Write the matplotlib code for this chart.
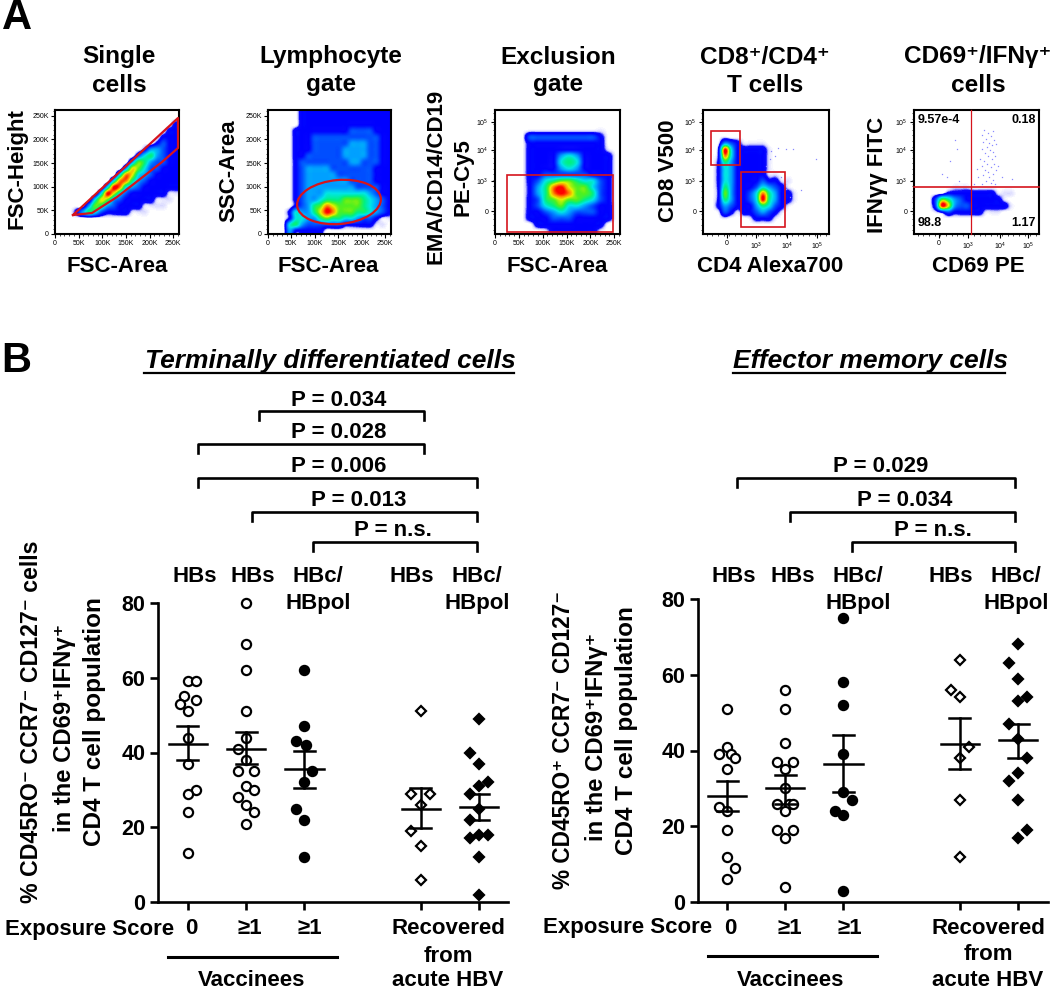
import matplotlib
matplotlib.use("Agg")
import matplotlib.pyplot as plt
import numpy as np
from matplotlib.colors import LinearSegmentedColormap
from matplotlib.patches import Ellipse, Rectangle

plt.rcParams['font.family'] = ['Liberation Sans', 'DejaVu Sans']
plt.rcParams['mathtext.default'] = 'regular'

W, H = 1050, 990

# PANEL A: density levels, top row first
# 0 = empty, . = stray events, 1 = blue ... 9 = red
singlet_density = [
    "00000000000000000000",
    "00000000000000000000",
    "00000000000000000001",
    "00000000000000000011",
    "00000000000000000111",
    "00000000000000001211",
    "00000000000000133211",
    "00000000000002453211",
    "00000000000036532211",
    "00000000000376422111",
    "00000000004874321111",
    "00000000048853211111",
    "00000000498432111111",
    "000000049742111111..",
    "0000004763211111...0",
    "00000365321111....00",
    "000135421111...00000",
    "00000000000000000000",
    "00000000000000000000",
    "00000000000000000000",
]
lymph_density = [
    "00000111111111111111",
    "00000111111111111111",
    "00000111111111111111",
    "00001111111112222111",
    "00001112222222222211",
    "00001112222223332211",
    "00001112222233332211",
    "00001122222233332211",
    "00001222222223322211",
    "00001233332222222111",
    "00001233333222222111",
    "00001233333332222111",
    "00001233333333222211",
    "00001233344444443211",
    "00001233455566654321",
    "00001235687666654321",
    "00014335798666554321",
    "000144335655443221..",
    "00045322222211111..0",
    "00031111100000000000",
]
exclusion_density = [
    "0000000000000000",
    "0000000000000000",
    "0000000000000000",
    "0000..........00",
    "0000222222222100",
    "0000111111111100",
    "00001111111111.0",
    "0000111134311110",
    "0000111145411110",
    "0000111134311110",
    "0000112222221110",
    "0000124566544210",
    "0000135897664210",
    "0000135898665210",
    "0000125676654210",
    "0000124564432110",
    "0000112343222110",
    "0000111222111110",
    "0000011111111100",
    "000000.111111.00",
]
cd4cd8_density = [
    "00000000000000000000",
    "00000000000000000000",
    "00000000000000000000",
    "00000000000000000000",
    "000.0000000000000000",
    "00.321....0000000000",
    "0019411111.000000000",
    "0018411111.000000000",
    "0015311111.000000000",
    "0014311111.000000000",
    "0014311111..00000000",
    "00143111121 1..000000".replace(" ", ""),
    "001531112432 1.000000".replace(" ", ""),
    "00163112485311.00000",
    "00153112495311.00000",
    "00132111354 21.000000".replace(" ", "")[:20],
    "00.21.112321.0000000",
    "000.000.111.00000000",
    "00000000000000000000",
    "00000000000000000000",
]
cd69_density = [
    "00000000000000000000",
    "00000000000000000000",
    "00000000000000000000",
    "00000000000000000000",
    "00000000000000000000",
    "00000000000000000000",
    "00000000000000000000",
    "00000000000000000000",
    "00000000000000000000",
    "00000000000000000000",
    "00000000000000000000",
    "00000000000000000000",
    "000000...00000000000",
    "0000.11111111...0000",
    "0002653211111 1.00000".replace(" ", ""),
    "00029732211111 1.0000".replace(" ", ""),
    "000.1211111...000000",
    "00000000000000000000",
    "00000000000000000000",
    "00000000000000000000",
]

# stray events, in 1/378 of the panel, measured from top left
cd69_stray_x = [213, 225, 240, 205, 232, 218, 243, 210, 228, 236, 222, 248, 205, 230, 240, 215,
                225, 245, 200, 235, 212, 222, 242, 205, 232, 216, 248, 225, 238, 210, 195, 228,
                240, 218, 232, 205, 245, 190, 255, 125, 130, 85, 110, 100, 135, 295, 180, 265]
cd69_stray_y = [62, 70, 65, 75, 80, 88, 90, 98, 100, 108, 112, 105, 118, 122, 128, 132,
                140, 140, 148, 150, 155, 165, 165, 172, 175, 182, 182, 190, 195, 198, 205, 205,
                212, 215, 222, 225, 225, 180, 170, 90, 120, 195, 155, 205, 215, 210, 225, 205]
cd4_stray_x = [205, 225, 250, 270, 340, 295, 250, 260, 200, 215, 235, 190, 245]
cd4_stray_y = [125, 115, 120, 118, 150, 245, 240, 265, 150, 140, 205, 170, 225]

quadrant_labels = ["9.57e-4", "0.18", "98.8", "1.17"]
scatter_ticks = [0, 50000, 100000, 150000, 200000, 250000]
scatter_labels = ["0", "50K", "100K", "150K", "200K", "250K"]
log_ticks_y = [0.182, 0.424, 0.678, 0.906]
log_labels_y = ["0", "$10^3$", "$10^4$", "$10^5$"]
log_ticks_x_cd4 = [0.19, 0.423, 0.67, 0.904]
log_ticks_x_cd69 = [0.196, 0.431, 0.688, 0.913]
log_labels_x = ["0", "$10^3$", "$10^4$", "$10^5$"]

# PANEL B: terminally differentiated cells
td_hbs0 = [59, 59, 55, 54, 53, 51, 44, 37, 30, 29, 24, 13]
td_hbs0_dx = [0, .14, -.07, .14, -.14, 0, 0, 0, .14, 0, 0, 0]
td_hbs1 = [80, 69, 62, 51, 44, 41, 38, 35, 35, 31, 30, 28, 26, 24, 21]
td_hbs1_dx = [0, 0, 0, 0, 0, -.14, 0, -.14, .14, 0, .14, -.14, 0, .14, 0]
td_pol1 = [62, 47, 43, 42, 35, 32, 25, 22, 12]
td_pol1_dx = [0, 0, -.14, .03, .14, 0, -.14, 0, 0]
td_rec_hbs = [51, 29, 29, 26, 19, 15, 6]
td_rec_hbs_dx = [0, -.16, .16, 0, -.16, 0, 0]
td_rec_pol = [49, 40, 37, 32, 31, 29, 25, 22, 18, 18, 17, 12, 2]
td_rec_pol_dx = [0, -.16, 0, .16, 0, -.16, 0, -.16, 0, .16, -.16, 0, 0]
td_mean = [42.3, 41, 35.5, 25, 25.5]
td_upper = [47, 45.5, 40.5, 30.4, 29]
td_lower = [38, 37, 30.5, 19.7, 22]

# PANEL B: effector memory cells
em_hbs0 = [51, 41, 39, 39, 38, 35, 25, 24, 19, 12, 9, 6]
em_hbs0_dx = [0, 0, -.14, .07, .14, 0, -.14, 0, 0, 0, .14, 0]
em_hbs1 = [56, 51, 42, 37, 37, 35, 30, 26, 26, 26, 24, 19, 19, 17, 4]
em_hbs1_dx = [0, 0, 0, -.14, .14, 0, 0, -.14, .07, .14, 0, -.14, .14, 0, 0]
em_pol1 = [75, 58, 52, 39, 29, 27, 24, 23, 3]
em_pol1_dx = [0, 0, 0, 0, 0, .14, -.14, 0, 0]
em_rec_hbs = [64, 56, 54, 41, 38, 27, 12]
em_rec_hbs_dx = [0, -.16, 0, .16, 0, 0, 0]
em_rec_pol = [68, 63, 59, 54, 53, 47, 43, 38, 34, 32, 27, 19, 17]
em_rec_pol_dx = [0, -.16, 0, .16, 0, -.16, 0, .16, 0, -.16, 0, .16, 0]
em_mean = [28, 30, 36.5, 41.7, 42.7]
em_upper = [32, 33.5, 44, 48.5, 47]
em_lower = [24, 26, 29, 35, 38]

group_x = [1, 2, 3, 5, 6]
y_ticks = [0, 20, 40, 60, 80]
td_p_values = ["P = 0.034", "P = 0.028", "P = 0.006", "P = 0.013", "P = n.s."]
em_p_values = ["P = 0.029", "P = 0.034", "P = n.s."]

# white -> stray pale -> blue -> cyan -> green -> yellow -> red
flow_cmap = LinearSegmentedColormap.from_list("flow", [
    (0.0, "#ffffff"), (0.2 / 9, "#dcdcff"), (0.3 / 9, "#c0c0ff"), (0.6 / 9, "#0a0aff"), (1 / 9, "#0000ff"),
    (2 / 9, "#0050ff"), (3 / 9, "#00a0ff"), (4 / 9, "#00e6e6"), (5 / 9, "#00f082"),
    (6 / 9, "#50f01e"), (7 / 9, "#e6f000"), (8 / 9, "#ff8c00"), (1.0, "#ff0000"),
])

fig = plt.figure(figsize=(W / 100, H / 100), dpi=100)


def px_axes(x0, y0, x1, y1):
    """Axes from a box given in picture pixels"""
    return fig.add_axes([x0 / W, 1 - y1 / H, (x1 - x0) / W, (y1 - y0) / H])


# overlay in picture pixels for labels, gates and brackets
ov = fig.add_axes([0, 0, 1, 1], zorder=10)
ov.set_xlim(0, W)
ov.set_ylim(H, 0)
ov.axis('off')
ov.patch.set_alpha(0)


def label(x, y, s, size=16, ha='center', **kw):
    ov.text(x, y, s, fontsize=size, fontweight='bold', ha=ha, va='center', **kw)


def levels(rows):
    return np.array([[0.2 if c == '.' else int(c) for c in row] for row in rows], dtype=float)


def flow_panel(box, rows, xticks, xlabels, yticks, ylabels, linear_x, linear_y):
    ax = px_axes(*box)
    ax.imshow(levels(rows), cmap=flow_cmap, vmin=0, vmax=9, extent=[0, 1, 0, 1],
              aspect='auto', interpolation='catrom')
    ax.set_xlim(0, 1)
    ax.set_ylim(0, 1)
    ax.set_xticks(xticks)
    ax.set_xticklabels(xlabels)
    ax.set_yticks(yticks)
    ax.set_yticklabels(ylabels)
    minor_linear = np.arange(0, 262144, 10000) / 262144
    ax.set_xticks(minor_linear if linear_x else np.arange(0.03, 1, 0.045), minor=True)
    ax.set_yticks(minor_linear if linear_y else np.arange(0.03, 1, 0.045), minor=True)
    ax.tick_params(which='major', length=3, width=0.8, labelsize=5, pad=1.5)
    ax.tick_params(which='minor', length=1.5, width=0.5)
    for s in ax.spines.values():
        s.set_linewidth(1.5)
    return ax


def stray_events(ax, xs, ys):
    ax.plot(np.array(xs) / 378, 1 - np.array(ys) / 378, ls='none', marker='s', ms=0.9,
            mfc='#8a8aff', mec='none')


lin_pos = [t / 262144 for t in scatter_ticks]
flow_panel((55, 110, 179, 234), singlet_density, lin_pos, scatter_labels, lin_pos, scatter_labels, True, True)
flow_panel((268, 110, 391, 234), lymph_density, lin_pos, scatter_labels, lin_pos, scatter_labels, True, True)
flow_panel((495, 110, 620, 234), exclusion_density, lin_pos, scatter_labels, log_ticks_y, log_labels_y, True, False)
cd4_ax = flow_panel((703, 110, 829, 234), cd4cd8_density, log_ticks_x_cd4, log_labels_x, log_ticks_y, log_labels_y, False, False)
cd69_ax = flow_panel((914, 110, 1039, 234), cd69_density, log_ticks_x_cd69, log_labels_x, log_ticks_y, log_labels_y, False, False)
stray_events(cd4_ax, cd4_stray_x, cd4_stray_y)
stray_events(cd69_ax, cd69_stray_x, cd69_stray_y)

# gates
gate_red = "#d6141c"
ov.plot([73, 178, 178, 162, 117, 92, 73], [215, 118, 148, 162, 197, 213, 215], color=gate_red, lw=1.6)
ov.add_patch(Ellipse((339, 202), 84, 44, angle=-5, fill=False, edgecolor=gate_red, lw=1.6))
ov.add_patch(Rectangle((507, 175), 105.5, 57, fill=False, edgecolor=gate_red, lw=1.2))
ov.add_patch(Rectangle((711, 131), 29, 34, fill=False, edgecolor=gate_red, lw=1.2))
ov.add_patch(Rectangle((741, 172), 44, 55, fill=False, edgecolor=gate_red, lw=1.2))
ov.plot([914, 1039], [187, 187], color=gate_red, lw=1.2)
ov.plot([971, 971], [110, 234], color=gate_red, lw=0.9)

label(918, 120, quadrant_labels[0], size=9, ha='left')
label(1036, 120, quadrant_labels[1], size=9, ha='right')
label(918, 223, quadrant_labels[2], size=9, ha='left')
label(1036, 223, quadrant_labels[3], size=9, ha='right')

# panel A texts
label(2, 18, "A", size=30, ha='left')
label(1, 361, "B", size=30, ha='left')
for x, top, bottom in [(119, "Single", "cells"), (331, "Lymphocyte", "gate"), (558, "Exclusion", "gate"),
                       (765, "CD8\u207a/CD4\u207a", "T cells"), (978, "CD69\u207a/IFN\u03b3\u207a", "cells")]:
    label(x, 57, top, size=17.6)
    label(x, 85, bottom, size=17.6)
for x, s in [(117, "FSC-Area"), (328, "FSC-Area"), (557, "FSC-Area"), (770, "CD4 Alexa700"), (978, "CD69 PE")]:
    label(x, 267, s)
for x, y, s in [(17, 169, "FSC-Height"), (229, 171, "SSC-Area"), (436, 176, "EMA/CD14/CD19"),
                (463, 177, "PE-Cy5"), (669, 171, "CD8 V500"), (877, 175, "IFN\u03b3\u03b3 FITC")]:
    label(x, y, s, rotation=90)


def dot_panel(box, xlim, groups, means, uppers, lowers):
    ax = px_axes(*box)
    ax.patch.set_alpha(0)
    styles = [('o', 'white'), ('o', 'white'), ('o', 'black'), ('D', 'white'), ('D', 'black')]
    for gx, (vals, dx), (mk, face), m, up, lo in zip(group_x, groups, styles, means, uppers, lowers):
        ms = 6.6 if mk == 'o' else 5.2
        ax.plot(gx + np.array(dx), vals, ls='none', marker=mk, ms=ms, mfc=face, mec='black',
                mew=1.6, clip_on=False, zorder=3)
        ax.plot([gx - .33, gx + .33], [m, m], color='black', lw=1.8, zorder=4)
        ax.plot([gx, gx], [lo, up], color='black', lw=1.8, zorder=4)
        ax.plot([gx - .18, gx + .18], [up, up], color='black', lw=1.8, zorder=4)
        ax.plot([gx - .18, gx + .18], [lo, lo], color='black', lw=1.8, zorder=4)
    ax.set_xlim(*xlim)
    ax.set_ylim(0, 80)
    ax.set_xticks(group_x)
    ax.set_xticklabels([])
    ax.set_yticks(y_ticks)
    ax.tick_params(axis='y', length=6, width=1.9, labelsize=15.5, pad=3)
    ax.tick_params(axis='x', length=6, width=1.9)
    for t in ax.get_yticklabels():
        t.set_fontweight('bold')
    ax.spines['top'].set_visible(False)
    ax.spines['right'].set_visible(False)
    ax.spines['left'].set_linewidth(1.9)
    ax.spines['bottom'].set_linewidth(1.9)


dot_panel((158, 603, 508, 902), (0.485, 6.5),
          [(td_hbs0, td_hbs0_dx), (td_hbs1, td_hbs1_dx), (td_pol1, td_pol1_dx),
           (td_rec_hbs, td_rec_hbs_dx), (td_rec_pol, td_rec_pol_dx)], td_mean, td_upper, td_lower)
dot_panel((698, 599, 1048, 902), (0.5, 6.515),
          [(em_hbs0, em_hbs0_dx), (em_hbs1, em_hbs1_dx), (em_pol1, em_pol1_dx),
           (em_rec_hbs, em_rec_hbs_dx), (em_rec_pol, em_rec_pol_dx)], em_mean, em_upper, em_lower)

# titles with underline
ov.text(330, 361, "Terminally differentiated cells", fontsize=19, fontweight='bold', fontstyle='italic',
        ha='center', va='center')
ov.plot([144, 514], [372.5, 372.5], color='black', lw=1.6)
ov.text(870.5, 361, "Effector memory cells", fontsize=19, fontweight='bold', fontstyle='italic',
        ha='center', va='center')
ov.plot([733, 1005], [372.5, 372.5], color='black', lw=1.6)


def bracket(x0, x1, top, text, text_x, text_y):
    ov.plot([x0, x0, x1, x1], [top + 9, top, top, top + 9], color='black', lw=1.9, solid_joinstyle='round')
    label(text_x, text_y, text)


td_brackets = [(259, 424, 411, 339, 401), (198, 424, 444, 339, 433), (198, 477, 478, 339, 467),
               (251.5, 477, 512, 359, 501), (312.5, 477, 542, 392.5, 531)]
em_brackets = [(737, 1015, 478, 881, 466), (790, 1015, 512, 905, 501), (852, 1015, 542, 933, 530)]
for text, (x0, x1, top, tx, ty) in zip(td_p_values + em_p_values, td_brackets + em_brackets):
    bracket(x0, x1, top, text, tx, ty)

# group labels above the dots
for x in [195, 253, 412]:
    label(x, 577, "HBs")
for x in [318, 477]:
    label(x, 577, "HBc/")
    label(x, 603, "HBpol")
for x in [734, 793, 951]:
    label(x, 577, "HBs")
for x in [858, 1016]:
    label(x, 577, "HBc/")
    label(x, 603, "HBpol")

# labels below the dots
label(5, 929, "Exposure Score", ha='left')
label(191, 929, "0")
label(250, 929, "\u22651")
label(310, 929, "\u22651")
label(448, 929, "Recovered")
label(448, 957, "from")
label(448, 980.5, "acute HBV")
ov.plot([168, 337], [957, 957], color='black', lw=2.2)
label(252, 980.5, "Vaccinees")

label(543, 928, "Exposure Score", ha='left')
label(730, 928, "0")
label(790, 928, "\u22651")
label(850, 928, "\u22651")
label(988, 928, "Recovered")
label(988, 955, "from")
label(988, 980.5, "acute HBV")
ov.plot([708, 877], [956, 956], color='black', lw=2.2)
label(791, 980.5, "Vaccinees")

# rotated y axis titles
label(32, 722, "% CD45RO\u207b CCR7\u207b CD127\u207b cells", size=16.7, rotation=90)
label(65, 728, "in the CD69\u207aIFN\u03b3\u207a", size=17.2, rotation=90)
label(95, 722, "CD4 T cell population", size=17.5, rotation=90)
label(563, 740, "% CD45RO\u207a CCR7\u207b CD127\u207b", size=16.3, rotation=90)
label(597, 737, "in the CD69\u207aIFN\u03b3\u207a", size=17.2, rotation=90)
label(627, 731, "CD4 T cell population", size=17.5, rotation=90)

plt.savefig("out.png", dpi=100)
